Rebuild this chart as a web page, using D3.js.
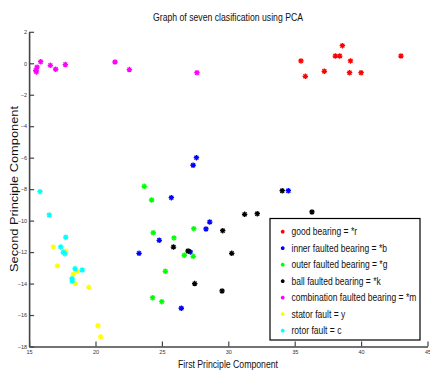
<!DOCTYPE html>
<html><head><meta charset="utf-8">
<script src="https://cdn.jsdelivr.net/npm/d3@7"></script>
<style>body{margin:0;background:#fff}svg{display:block}</style>
</head><body>
<svg id="chart" width="430" height="370"></svg>
<script>
const seriesNames = ["good bearing = *r","inner faulted bearing = *b","outer faulted bearing = *g","ball faulted bearing = *k","combination faulted bearing = *m","stator fault = y","rotor fault = c"];
const seriesColors = ["#ff0000","#0000ff","#00ff00","#000000","#ff00ff","#ffff00","#00ffff"];
const goodX = [35.47,35.8,37.23,38.06,38.39,38.59,39.2,39.13,40.0,43.0];
const goodY = [0.15,-0.83,-0.51,0.46,0.46,1.12,0.15,-0.6,-0.6,0.46];
const innerX = [27.6,27.35,25.71,28.6,28.32,24.8,23.28,27.14,26.46,34.52];
const innerY = [-6.0,-6.48,-8.54,-10.09,-10.53,-11.25,-12.08,-11.99,-15.57,-8.1];
const outerX = [23.67,24.23,27.4,24.35,25.91,26.69,27.36,25.26,24.3,24.99];
const outerY = [-7.82,-8.69,-10.51,-10.77,-11.1,-12.2,-12.27,-13.22,-14.9,-15.15];
const ballX = [29.58,25.87,26.97,30.26,27.47,29.53,34.06,31.23,32.18,36.3];
const ballY = [-10.64,-11.68,-11.93,-12.08,-14.0,-14.47,-8.1,-9.6,-9.56,-9.45];
const combX = [15.5,15.6,15.55,15.87,16.6,17.0,17.73,21.47,22.55,27.64];
const combY = [-0.45,-0.25,-0.55,0.1,-0.13,-0.38,-0.08,0.08,-0.4,-0.6];
const statorX = [16.83,17.78,17.13,18.33,18.63,18.48,19.49,20.19,20.39];
const statorY = [-11.67,-11.95,-12.88,-13.41,-13.22,-14.0,-14.24,-16.68,-17.39];
const rotorX = [15.82,16.52,17.76,17.38,17.58,17.7,18.46,19.0,18.23,18.25];
const rotorY = [-8.16,-9.64,-11.06,-11.67,-12.01,-12.1,-13.05,-13.14,-13.69,-13.84];
const xTicks = [15,20,25,30,35,40,45];
const yTicks = [2,0,-2,-4,-6,-8,-10,-12,-14,-16,-18];
const titleText = "Graph of seven clasification using PCA";
const xLabel = "First Principle Component";
const yLabel = "Second Principle Component";

const seriesX = [goodX,innerX,outerX,ballX,combX,statorX,rotorX];
const seriesY = [goodY,innerY,outerY,ballY,combY,statorY,rotorY];

const svg = d3.select("#chart");
const x = d3.scaleLinear().domain([15,45]).range([29.1,427.5]);
const y = d3.scaleLinear().domain([-18,2]).range([346.5,31.8]);

const star = {draw(ctx, size){const r=Math.sqrt(size)/2, d=r*0.72;
  ctx.moveTo(-r,0);ctx.lineTo(r,0);ctx.moveTo(0,-r);ctx.lineTo(0,r);
  ctx.moveTo(-d,-d);ctx.lineTo(d,d);ctx.moveTo(-d,d);ctx.lineTo(d,-d);}};

const axisColor = "#444";
const xAxis = svg.append("g").attr("transform",`translate(0,${y(-18)})`)
  .call(d3.axisBottom(x).tickValues(xTicks).tickSizeInner(-4).tickSizeOuter(0).tickPadding(4));
const yAxis = svg.append("g").attr("transform",`translate(${x(15)},0)`)
  .call(d3.axisLeft(y).tickValues(yTicks).tickSizeInner(-4).tickSizeOuter(0).tickPadding(2));
[xAxis,yAxis].forEach(g=>{
  g.select(".domain").attr("stroke",axisColor).attr("stroke-width",1.6);
  g.selectAll(".tick line").attr("stroke",axisColor).attr("stroke-width",1.2);
  g.selectAll(".tick text").attr("fill","#333").style("font-family","Liberation Sans, Arial, sans-serif").style("font-size","5.5px");
});
yAxis.selectAll(".tick line").attr("x2",5);
xAxis.selectAll(".tick line").attr("y2",-5);

seriesX.forEach((xs,i)=>{
  const data = xs.map((v,j)=>[v,seriesY[i][j]]);
  svg.append("g").selectAll("path").data(data).join("path")
    .attr("transform",d=>`translate(${x(d[0])},${y(d[1])})`)
    .attr("d",d3.symbol(star,30)())
    .attr("fill","none").attr("stroke",seriesColors[i]).attr("stroke-width",1.3);
});

svg.append("text").attr("x",228).attr("y",21).attr("text-anchor","middle")
  .style("font-family","Liberation Sans, Arial, sans-serif").style("font-size","10.5px").attr("fill","#111")
  .attr("textLength",150).attr("lengthAdjust","spacingAndGlyphs").text(titleText);
svg.append("text").attr("x",228).attr("y",368).attr("text-anchor","middle")
  .style("font-family","Liberation Sans, Arial, sans-serif").style("font-size","10px").attr("fill","#111")
  .attr("textLength",100).attr("lengthAdjust","spacingAndGlyphs").text(xLabel);
svg.append("text").attr("transform","translate(18,189) rotate(-90)").attr("text-anchor","middle")
  .style("font-family","Liberation Sans, Arial, sans-serif").style("font-size","11px").attr("fill","#111")
  .attr("textLength",166).attr("lengthAdjust","spacingAndGlyphs").text(yLabel);

const lg = svg.append("g");
lg.append("rect").attr("x",270).attr("y",218.5).attr("width",150).attr("height",121.5)
  .attr("fill","#fff").attr("stroke","#000").attr("stroke-width",1.2);
const texts = [];
seriesNames.forEach((n,i)=>{
  const yy = 231.7 + i*16.5;
  lg.append("path").attr("transform",`translate(282.7,${yy})`).attr("d",d3.symbol(star,14)())
    .attr("fill","none").attr("stroke",seriesColors[i]).attr("stroke-width",1.3);
  const t = lg.append("g").attr("transform",`translate(291.5,${yy+3.5})`);
  texts.push(t.append("text").attr("x",0).attr("y",0)
    .style("font-family","Liberation Sans, Arial, sans-serif").style("font-size","10px").attr("fill","#111").text(n));
});
const maxW = d3.max(texts, t=>t.node().getComputedTextLength());
const k = 125/maxW;
texts.forEach(t=>t.attr("transform",`scale(${k},1)`));
</script>
</body></html>
